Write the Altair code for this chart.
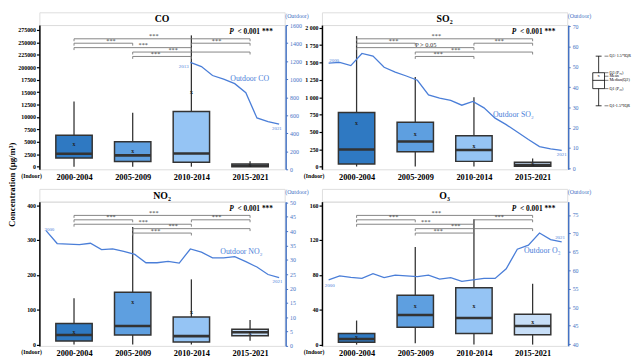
import altair as alt
import pandas as pd

# ---------------- data ----------------
periods = ["2000-2004", "2005-2009", "2010-2014", "2015-2021"]
period_colors = ["#2f79c2", "#5e9fe0", "#95c4f4", "#c7def7"]

# indoor box statistics (lower whisker, Q1, median, Q3, upper whisker, mean)
co_low = [0, 0, 0, 0]
co_q1 = [1750, 1040, 910, 0]
co_med = [2600, 2270, 2660, 200]
co_q3 = [6300, 5000, 11100, 520]
co_high = [13100, 10850, 26400, 1100]
co_mean = [4550, 3120, 14950, 300]

so2_low = [0, 0, 0, 0]
so2_q1 = [37, 213, 74, 5]
so2_med = [246, 362, 237, 23]
so2_q3 = [780, 640, 445, 60]
so2_high = [1880, 1290, 1000, 116]
so2_mean = [620, 470, 300, 40]

no2_low = [0, 0, 0, 11]
no2_q1 = [10, 27, 7, 25]
no2_med = [27, 53, 24, 35]
no2_q3 = [60, 150, 79, 44]
no2_high = [133, 337, 187, 70]
no2_mean = [35, 122, 92, 33]

o3_low = [0, 1.5, 0, 0]
o3_q1 = [2.6, 20, 12.7, 11.2]
o3_med = [6.3, 34, 30.6, 21.3]
o3_q3 = [12.7, 56.7, 65.3, 34.7]
o3_high = [27.6, 112, 143.7, 69.8]
o3_mean = [9, 43.7, 44.4, 25.7]

# outdoor annual means
co_years = [2013, 2014, 2015, 2016, 2017, 2018, 2019, 2020, 2021]
co_out = [1186, 1140, 1040, 1000, 950, 850, 570, 530, 500]
all_years = list(range(2000, 2022))
so2_out = [51.8, 52.2, 50.6, 56.6, 55.3, 49.8, 47.4, 45.5, 43.4, 36.2, 34.6,
           33.5, 31.1, 33.0, 29.8, 24.7, 21.5, 17.9, 14.2, 10.7, 9.6, 8.8]
no2_out = [40.2, 35.7, 35.5, 35.3, 35.8, 33.6, 33.8, 33.0, 31.9, 29.0, 29.0,
           29.5, 28.9, 33.8, 32.7, 30.7, 30.7, 31.1, 29.4, 27.5, 24.9, 23.8]
o3_out = [57.4, 58.5, 58.1, 57.8, 59.1, 58.0, 58.7, 58.5, 58.3, 58.7, 57.6,
          58.0, 57.0, 57.4, 57.8, 57.8, 60.4, 65.7, 66.8, 70.1, 68.3, 67.7]

# pairwise comparisons (period index from, to), bracket row, label
br_from = [0, 0, 2, 0, 1, 1]
br_to = [3, 1, 3, 2, 3, 2]
br_row = [1, 2, 2, 3, 4, 5]
br_label_at = [1.36, 0.63, 2.43, 1.18, 1.69, 1.39]
co_sig = ["***"] * 6
so2_sig = ["***", "***", "***", "P > 0.05", "***", "***"]
no2_sig = ["***"] * 6
o3_sig = ["***"] * 6

# axis tick labels
co_ticks = [0, 2500, 5000, 7500, 10000, 12500, 15000, 17500, 20000, 22500, 25000, 27500]
co_tick_labels = ["0", "2500", "5000", "7500", "10000", "12500", "15000", "17500",
                  "200000", "225000", "250000", "275000"]
so2_ticks = [0, 250, 500, 750, 1000, 1250, 1500, 1750, 2000]
so2_tick_labels = ["0", "250", "500", "750", "1 000", "1 250", "1 500", "1 750", "2 000"]
no2_ticks = [0, 100, 200, 300, 400]
no2_tick_labels = ["0", "100", "200", "300", "400"]
o3_ticks = [0, 40, 80, 120, 160]
o3_tick_labels = ["0", "40", "80", "120", "160"]

# box-plot key (schematic values)
key_labels = ["Q3+1.5*IQR", "Q3 (P\u2087\u2085)", "Mean", "Median(Q2)", "Q1 (P\u2082\u2085)",
              "Q1-1.5*IQR"]
key_values = [54, 46, 44.3, 42.3, 38.3, 30]

# ---------------- style ----------------
SERIF = "Liberation Serif"
BLUE = "#4a7ed8"
AXBLUE = "#4472c4"
DARK = "#333333"
W = 250
H = 147
XDOM = [-0.59, 3.59]
YEARDOM = [1999.4, 2021.5]
LBL = 6


def js_list(items):
    return "[" + ",".join("'" + str(s) + "'" for s in items) + "]"


def panel(title, low, q1, med, q3, high, mean, ydom, ticks, tick_labels,
          years, outv, odom, ostep, sig, name, name_pos, ylab_pos):
    box_df = pd.DataFrame({"period": periods, "idx": list(range(4)), "low": low,
                           "q1": q1, "med": med, "q3": q3, "high": high, "mean": mean})
    base = alt.Chart(box_df).transform_calculate(x0="datum.idx - 0.31", x1="datum.idx + 0.31")
    xsc = alt.Scale(domain=XDOM, nice=False, zero=False)
    ysc = alt.Scale(domain=ydom, nice=False, zero=False)
    xax = alt.Axis(values=[0, 1, 2, 3], labelExpr=js_list(periods) + "[datum.value]",
                   title=None, ticks=False, domain=False, grid=False, labelFont=SERIF,
                   labelFontWeight="bold", labelFontSize=8.5, labelColor="black",
                   labelPadding=3, labelOverlap=False)
    yax = alt.Axis(orient="left", values=ticks,
                   labelExpr=js_list(tick_labels) + "[indexof(" + str(ticks) + ", datum.value)]",
                   grid=False, labelFont=SERIF, labelFontWeight="bold", labelFontSize=LBL,
                   labelColor="black", tickColor="black", tickSize=3, tickWidth=1.2,
                   domainColor="black", domainWidth=1.5, labelPadding=1, labelOverlap=False,
                   title="(Indoor)", titleAngle=0, titleAlign="right", titleBaseline="middle",
                   titleX=2, titleY=H + 6, titleFont=SERIF, titleFontSize=5.8,
                   titleFontWeight="bold", titleColor="black")

    def X(f):
        return alt.X(f, type="quantitative", scale=xsc, axis=xax)

    def Y(f):
        return alt.Y(f, type="quantitative", scale=ysc, axis=yax)

    whisk = base.mark_rule(color=DARK, strokeWidth=1.3).encode(
        x=X("idx"), y=Y("low"), y2="high:Q")
    box = base.mark_bar(stroke=DARK, strokeWidth=1.5).encode(
        x=X("x0"), x2="x1:Q", y=Y("q1"), y2="q3:Q",
        color=alt.Color("period:N", scale=alt.Scale(domain=periods, range=period_colors),
                        legend=None))
    median = base.mark_rule(color=DARK, strokeWidth=2.6).encode(
        x=X("x0"), x2="x1:Q", y=Y("med"))
    meanm = base.mark_text(text="x", font=SERIF, fontSize=6, fontWeight="bold",
                           color="#222", baseline="middle").encode(x=X("idx"), y=Y("mean"))
    boxes = alt.layer(whisk, box, median, meanm)

    br_df = pd.DataFrame({"a": br_from, "b": br_to, "row": br_row, "lab": sig,
                          "lx": br_label_at})
    bb = alt.Chart(br_df).transform_calculate(rowd="datum.row + 0.55")
    bxs = alt.Scale(domain=XDOM, nice=False, zero=False)
    bys = alt.Scale(domain=[1, 5], range=[14, 32])

    def BX(f):
        return alt.X(f, type="quantitative", scale=bxs, axis=None)

    def BY(f):
        return alt.Y(f, type="quantitative", scale=bys, axis=None)

    hl = bb.mark_rule(color="#777", strokeWidth=0.9).encode(x=BX("a"), x2="b:Q", y=BY("row"))
    lt = bb.mark_rule(color="#777", strokeWidth=0.9).encode(x=BX("a"), y=BY("row"), y2="rowd:Q")
    rt = bb.mark_rule(color="#777", strokeWidth=0.9).encode(x=BX("b"), y=BY("row"), y2="rowd:Q")
    lab = bb.mark_text(font=SERIF, fontSize=6.5, color="#333", dy=-2.5,
                       baseline="middle").encode(x=BX("lx"), y=BY("row"), text="lab:N")
    pdf = pd.DataFrame({"p": ["P"], "rest": ["< 0.001 ***"]})
    ptxt = alt.Chart(pdf).mark_text(font=SERIF, fontSize=7.5, fontWeight="bold",
                                    align="right", baseline="middle", color="black").encode(
        x=alt.value(W - 12), y=alt.value(7), text="rest:N")
    pit = alt.Chart(pdf).mark_text(font=SERIF, fontSize=7.5, fontWeight="bold",
                                   fontStyle="italic", align="right", baseline="middle",
                                   color="black").encode(
        x=alt.value(W - 52), y=alt.value(7), text="p:N")
    brackets = alt.layer(hl, lt, rt, lab, ptxt, pit)

    out_df = pd.DataFrame({"year": years, "val": outv})
    oticks = []
    v = round(max(odom[0], 0))
    while v <= odom[1] + 1e-9:
        oticks.append(v)
        v += ostep
    oax = alt.Axis(orient="right", values=oticks, format="d", grid=False, offset=1,
                   labelFont=SERIF, labelFontSize=LBL, labelColor=AXBLUE, labelOverlap=False,
                   tickColor=AXBLUE, tickSize=2, domainColor=AXBLUE, domainWidth=1.5,
                   labelPadding=2, title="(Outdoor)", titleAngle=0, titleAlign="left",
                   titleBaseline="middle", titleX=-1, titleY=-10, titleFont=SERIF,
                   titleFontSize=LBL, titleFontWeight="normal", titleColor=AXBLUE)
    lxs = alt.Scale(domain=YEARDOM, nice=False, zero=False)
    lys = alt.Scale(domain=odom, nice=False, zero=False)

    def LX(f):
        return alt.X(f, type="quantitative", scale=lxs, axis=None)

    def LY(f):
        return alt.Y(f, type="quantitative", scale=lys, axis=oax)

    line = alt.Chart(out_df).mark_line(color=BLUE, strokeWidth=1.3).encode(
        x=LX("year"), y=LY("val"))
    nm_df = pd.DataFrame({"year": [name_pos[0]], "val": [name_pos[1]], "t": [name]})
    nm = alt.Chart(nm_df).mark_text(font=SERIF, fontSize=8, color=BLUE, align="left",
                                    baseline="middle").encode(
        x=LX("year"), y=LY("val"), text="t:N")
    yl_df = pd.DataFrame({"year": [ylab_pos[0][0], ylab_pos[1][0]],
                          "val": [ylab_pos[0][1], ylab_pos[1][1]],
                          "t": [str(years[0]), str(years[-1])]})
    yl = alt.Chart(yl_df).mark_text(font=SERIF, fontSize=5, color=BLUE,
                                    baseline="middle").encode(
        x=LX("year"), y=LY("val"), text="t:N")
    outdoor = alt.layer(line, nm, yl)

    plot = alt.layer(boxes, brackets, outdoor).resolve_scale(
        x="independent", y="independent").properties(width=W, height=H)

    head = alt.Chart(pd.DataFrame({"t": [title]})).mark_text(
        font=SERIF, fontSize=10, fontWeight="bold", color="black", baseline="middle").encode(
        x=alt.value(W / 2), y=alt.value(7), text="t:N").properties(width=W, height=13)
    return alt.vconcat(head, plot, spacing=0, bounds="flush")


co = panel("CO", co_low, co_q1, co_med, co_q3, co_high, co_mean, [-525, 28475],
           co_ticks, co_tick_labels, co_years, co_out, [0, 1600], 200, co_sig,
           "Outdoor CO", (2016.6, 1000), [(2012.4, 1150), (2020.8, 455)])
so2 = panel("SO\u2082", so2_low, so2_q1, so2_med, so2_q3, so2_high, so2_mean, [-40, 2040],
            so2_ticks, so2_tick_labels, all_years, so2_out, [-0.5, 70.6], 10, so2_sig,
            "Outdoor SO\u2082", (2014.8, 26), [(2000.5, 53.6), (2021, 7.0)])
no2 = panel("NO\u2082", no2_low, no2_q1, no2_med, no2_q3, no2_high, no2_mean, [-4, 410],
            no2_ticks, no2_tick_labels, all_years, no2_out, [0, 50.3], 5, no2_sig,
            "Outdoor NO\u2082", (2015.7, 32.6), [(2000.3, 40.9), (2020.85, 22.6)])
o3 = panel("O\u2083", o3_low, o3_q1, o3_med, o3_q3, o3_high, o3_mean, [-1.5, 164],
           o3_ticks, o3_tick_labels, all_years, o3_out, [39.5, 78.6], 5, o3_sig,
           "Outdoor O\u2083", (2017.6, 65.3), [(2000.1, 56.0), (2020.85, 69.0)])

# box-plot key
key_df = pd.DataFrame({"lab": key_labels, "v": key_values})
kdom = alt.Scale(domain=[-0.7, 75.2], nice=False, zero=False)


def KY(f):
    return alt.Y(f, type="quantitative", scale=kdom, axis=None)


kstat = pd.DataFrame({"lo": [key_values[5]], "q1": [key_values[4]], "med": [key_values[3]],
                      "mean": [key_values[2]], "q3": [key_values[1]], "hi": [key_values[0]]})
ks = alt.Chart(kstat)
k_wh = ks.mark_rule(color="black", strokeWidth=0.8).encode(
    x=alt.value(7), y=KY("lo"), y2="hi:Q")
k_cap1 = ks.mark_rule(color="black", strokeWidth=0.8).encode(
    x=alt.value(4), x2=alt.value(10), y=KY("lo"))
k_cap2 = ks.mark_rule(color="black", strokeWidth=0.8).encode(
    x=alt.value(4), x2=alt.value(10), y=KY("hi"))
k_box = ks.mark_bar(color="white", stroke="black", strokeWidth=0.8).encode(
    x=alt.value(1), x2=alt.value(13), y=KY("q1"), y2="q3:Q")
k_med = ks.mark_rule(color="black", strokeWidth=0.8).encode(
    x=alt.value(1), x2=alt.value(13), y=KY("med"))
k_mean = ks.mark_text(text="x", fontSize=4.5, font=SERIF, baseline="middle").encode(
    x=alt.value(7), y=KY("mean"))
kbase = alt.Chart(key_df)
k_arrow = kbase.mark_rule(color="black", strokeWidth=0.5).encode(
    x=alt.value(13), x2=alt.value(17), y=KY("v"))
k_lab = kbase.mark_text(font=SERIF, fontSize=4.2, align="left", baseline="middle",
                        color="black").encode(x=alt.value(18), y=KY("v"), text="lab:N")
key = alt.layer(k_wh, k_cap1, k_cap2, k_box, k_med, k_mean, k_arrow, k_lab).properties(
    width=40, height=H + 13, view=alt.ViewBackground(strokeOpacity=0))

top = alt.hconcat(co, alt.hconcat(so2, key, spacing=-20), spacing=-7)
bottom = alt.hconcat(no2, o3, spacing=-7)
chart = alt.vconcat(top, bottom, spacing=7).properties(
    padding=0,
    title=alt.TitleParams("Concentration (\u03bcg/m\u00b3)", orient="left", anchor="middle",
                          font=SERIF, fontSize=9, fontWeight="bold", color="black",
                          offset=0),
).configure_view(stroke="black", strokeWidth=1.5).configure(font=SERIF)

chart.save("out.html", embed_options={"renderer": "svg", "actions": False})
